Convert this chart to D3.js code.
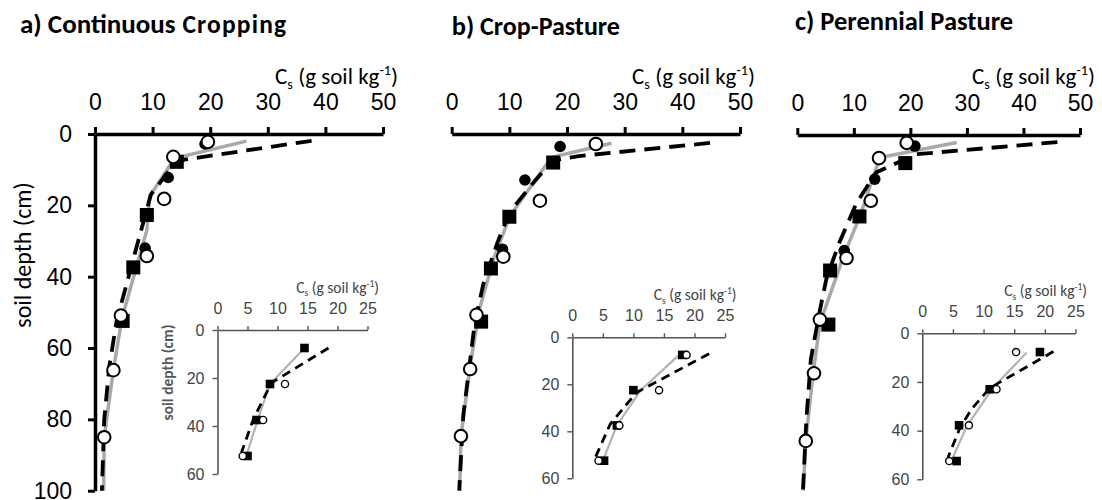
<!DOCTYPE html>
<html><head><meta charset="utf-8">
<script src="https://cdn.jsdelivr.net/npm/d3@7"></script>
<style>
body{margin:0;background:#fff;}
svg{display:block;font-family:Carlito, Lato, 'Open Sans', sans-serif;}
</style></head><body>
<svg id="chart" width="1102" height="500"></svg>
<script>
// ---------- tick labels / categories ----------
const mainTicks = [0, 10, 20, 30, 40, 50];
const depthTicks = [0, 20, 40, 60, 80, 100];
const insetTicks = [0, 5, 10, 15, 20, 25];
const insetDepthTicks = [0, 20, 40, 60];
const titleLead = ["a) Continuous", "b)", "c) Perennial Pasture"];
const titleTail = ["Cropping", "Crop-Pasture", ""];

// ---------- panel a : [Cs, depth] ----------
const aFilledCircles = [[19.1, 2.8], [12.7, 12.2], [8.7, 32.0]];
const aOpenCircles = [[19.6, 2.2], [13.6, 6.4], [12.0, 18.2], [9.0, 34.2], [4.5, 50.9], [3.2, 66.2], [1.6, 85.0]];
const aSquares = [[14.2, 7.8], [9.0, 22.7], [6.65, 37.4], [4.8, 52.4]];
const aGrayLine = [[26.3, 2.0], [13.8, 6.8], [9.5, 17.5], [9.0, 27.0], [4.7, 51.5], [3.2, 66.0], [1.6, 85.0], [1.5, 100]];
const aDashLine = [[37.6, 1.9], [14.2, 7.5], [9.7, 17.0], [7.5, 30.0], [5.0, 45.0], [3.8, 52.0], [2.5, 65.0], [1.6, 80.0], [1.2, 100]];
const aInsetSquares = [[14.5, 7.5], [8.75, 22.5], [6.5, 37.5], [5.0, 52.5]];
const aInsetOpen = [[11.25, 22.5], [7.6, 37.5], [4.2, 52.5]];
const aInsetGray = [[14.5, 7.5], [8.75, 22.5], [6.7, 37.5], [4.8, 52.5]];
const aInsetDash = [[18.5, 7.5], [9.0, 22.0], [6.0, 37.0], [4.0, 51.0]];

// ---------- panel b ----------
const bFilledCircles = [[18.8, 3.5], [12.7, 12.9], [8.8, 32.3]];
const bOpenCircles = [[25.0, 2.8], [15.3, 18.7], [8.95, 34.4], [4.3, 50.7], [3.2, 65.9], [1.6, 84.7]];
const bSquares = [[17.6, 8.0], [10.0, 23.2], [6.8, 37.7], [5.1, 52.6]];
const bGrayLine = [[27.7, 2.6], [17.3, 6.5], [10.1, 23.0], [7.2, 35.3], [4.8, 49.3], [3.2, 65.0], [1.6, 85.0], [1.4, 100]];
const bDashLine = [[44.8, 2.5], [22.0, 6.2], [17.4, 7.5], [14.1, 13.8], [10.0, 22.0], [7.9, 30.6], [5.5, 42.0], [4.0, 53.0], [2.0, 79.0], [1.3, 100]];
const bInsetSquares = [[18.0, 7.5], [10.0, 22.5], [7.3, 37.5], [5.2, 52.5]];
const bInsetOpen = [[18.7, 7.5], [14.2, 22.5], [7.7, 37.5], [4.3, 52.5]];
const bInsetGray = [[17.5, 7.5], [11.2, 22.5], [7.3, 37.5], [5.0, 52.5]];
const bInsetDash = [[22.4, 7.0], [10.5, 23.5], [6.2, 37.0], [3.8, 51.0]];

// ---------- panel c ----------
const cFilledCircles = [[20.8, 3.1], [13.7, 12.4], [8.3, 32.5]];
const cOpenCircles = [[19.35, 2.2], [14.45, 6.5], [13.0, 18.5], [8.7, 34.6], [4.0, 51.9], [2.95, 67.0], [1.5, 86.0]];
const cSquares = [[19.1, 7.9], [11.0, 22.9], [5.8, 38.1], [5.5, 53.3]];
const cGrayLine = [[28.2, 2.1], [14.6, 6.3], [11.1, 22.7], [8.1, 34.4], [4.0, 53.0], [2.8, 67.0], [1.5, 86.0], [1.05, 100]];
const cDashLine = [[46.0, 2.0], [21.0, 5.4], [14.0, 10.5], [10.5, 19.0], [7.5, 30.0], [5.2, 40.0], [3.9, 50.0], [2.4, 63.0], [1.6, 80.0], [1.0, 100]];
const cInsetSquares = [[19.2, 7.7], [11.0, 23.0], [6.0, 37.8], [5.6, 52.5]];
const cInsetOpen = [[15.3, 7.7], [12.1, 23.0], [7.6, 37.8], [4.4, 52.5]];
const cInsetGray = [[17.0, 8.0], [11.5, 22.5], [7.3, 38.0], [5.0, 51.0]];
const cInsetDash = [[21.4, 7.5], [11.0, 22.5], [8.1, 31.0], [6.2, 38.5], [4.2, 51.0]];

// ---------- layout ----------
const panels = [
  {lead: 0, tx: 20, ty: 33, leadSize: 27, tailSize: 25.5, tailSpacing: 1.2, main: {x0: 95, x1: 383, y0: 134, y1: 490.7, yAxis: true},
   inset: {x0: 217.5, x1: 367.5, y0: 330, y1: 474, yLabel: true},
   fc: aFilledCircles, oc: aOpenCircles, sq: aSquares, gray: aGrayLine, dash: aDashLine,
   isq: aInsetSquares, ioc: aInsetOpen, igray: aInsetGray, idash: aInsetDash},
  {lead: 1, tx: 451.7, ty: 35, leadSize: 26.5, tailSize: 26, tailSpacing: 0, main: {x0: 451.7, x1: 740, y0: 134, y1: 490.7, yAxis: false},
   inset: {x0: 572.3, x1: 725, y0: 337.3, y1: 478.3, yLabel: false},
   fc: bFilledCircles, oc: bOpenCircles, sq: bSquares, gray: bGrayLine, dash: bDashLine,
   isq: bInsetSquares, ioc: bInsetOpen, igray: bInsetGray, idash: bInsetDash},
  {lead: 2, tx: 795, ty: 30, leadSize: 26.5, tailSize: 26, tailSpacing: 0, main: {x0: 797.3, x1: 1080, y0: 135, y1: 490.7, yAxis: false},
   inset: {x0: 922.3, x1: 1075.5, y0: 333.3, y1: 479.3, yLabel: false},
   fc: cFilledCircles, oc: cOpenCircles, sq: cSquares, gray: cGrayLine, dash: cDashLine,
   isq: cInsetSquares, ioc: cInsetOpen, igray: cInsetGray, idash: cInsetDash}
];

const svg = d3.select('#chart');

function csTitle(g, x, y, size, fill) {
  const t = g.append('text').attr('x', x).attr('y', y).attr('text-anchor', 'end')
    .attr('font-size', size).attr('fill', fill);
  t.append('tspan').text('C');
  t.append('tspan').attr('font-size', size * 0.62).attr('dy', size * 0.22).text('s');
  t.append('tspan').attr('dy', -size * 0.22).text(' (g soil kg');
  t.append('tspan').attr('font-size', size * 0.62).attr('dy', -size * 0.4).text('-1');
  t.append('tspan').attr('dy', size * 0.4).text(')');
}

panels.forEach(p => {
  const g = svg.append('g');
  // title
  const tt = g.append('text').attr('x', p.tx).attr('y', p.ty).attr('font-weight', 'bold').attr('fill', '#000');
  tt.append('tspan').attr('font-size', p.leadSize).text(titleLead[p.lead]);
  if (titleTail[p.lead]) tt.append('tspan').attr('font-size', p.tailSize)
    .attr('letter-spacing', p.tailSpacing).text(' ' + titleTail[p.lead]);

  // ---- main plot ----
  const m = p.main;
  const x = d3.scaleLinear().domain([0, 50]).range([m.x0, m.x1]);
  const y = d3.scaleLinear().domain([0, 100]).range([m.y0, m.y1]);

  const xa = g.append('g').attr('transform', `translate(0,${m.y0})`)
    .call(d3.axisTop(x).tickValues(mainTicks).tickSize(7).tickSizeOuter(0).tickPadding(17));
  xa.select('.domain').attr('stroke', '#000').attr('stroke-width', 3.5);
  xa.selectAll('.tick line').attr('stroke', '#000').attr('stroke-width', 3);
  xa.selectAll('.tick text').attr('font-size', 23).attr('font-family', null).attr('fill', '#000');
  csTitle(g, m.x1 + 15, 84, 23, '#000');

  if (m.yAxis) {
    const ya = g.append('g').attr('transform', `translate(${m.x0},0)`)
      .call(d3.axisLeft(y).tickValues(depthTicks).tickSize(7).tickSizeOuter(0).tickPadding(16));
    ya.select('.domain').attr('stroke', '#000').attr('stroke-width', 3.5);
    ya.selectAll('.tick line').attr('stroke', '#000').attr('stroke-width', 3);
    ya.selectAll('.tick text').attr('font-size', 23).attr('font-family', null).attr('fill', '#000');
    g.append('text').attr('transform', `translate(31,255) rotate(-90)`)
      .attr('text-anchor', 'middle').attr('font-size', 24).attr('fill', '#000').text('soil depth (cm)');
  }

  const line = d3.line().x(d => x(d[0])).y(d => y(d[1]));
  g.append('path').attr('d', line(p.gray)).attr('fill', 'none').attr('stroke', '#a9a9a9').attr('stroke-width', 3.5);
  g.append('path').attr('d', line(p.dash)).attr('fill', 'none').attr('stroke', '#000')
    .attr('stroke-width', 3.8).attr('stroke-dasharray', '16,9');

  g.selectAll('.sq').data(p.sq).join('rect').attr('x', d => x(d[0]) - 7).attr('y', d => y(d[1]) - 7)
    .attr('width', 14).attr('height', 14).attr('fill', '#000');
  g.selectAll('.fc').data(p.fc).join('circle').attr('cx', d => x(d[0])).attr('cy', d => y(d[1]))
    .attr('r', 5.8).attr('fill', '#000');
  g.selectAll('.oc').data(p.oc).join('circle').attr('cx', d => x(d[0])).attr('cy', d => y(d[1]))
    .attr('r', 6.3).attr('fill', '#fff').attr('stroke', '#000').attr('stroke-width', 2);

  // ---- inset ----
  const n = p.inset;
  const ix = d3.scaleLinear().domain([0, 25]).range([n.x0, n.x1]);
  const iy = d3.scaleLinear().domain([0, 60]).range([n.y0, n.y1]);
  const ig = g.append('g');
  const ixa = ig.append('g').attr('transform', `translate(0,${n.y0})`)
    .call(d3.axisTop(ix).tickValues(insetTicks).tickSize(4).tickSizeOuter(0).tickPadding(12.5));
  const iya = ig.append('g').attr('transform', `translate(${n.x0},0)`)
    .call(d3.axisLeft(iy).tickValues(insetDepthTicks).tickSize(5).tickSizeOuter(0).tickPadding(8));
  [ixa, iya].forEach(a => {
    a.select('.domain').attr('stroke', '#555').attr('stroke-width', 1.6);
    a.selectAll('.tick line').attr('stroke', '#555').attr('stroke-width', 1.4);
    a.selectAll('.tick text').attr('font-size', 16).attr('font-family', null).attr('fill', '#444');
  });
  csTitle(ig, n.x1 + 11.5, n.y0 - 37, 15.5, '#444');
  if (n.yLabel) {
    ig.append('text').attr('transform', `translate(173,${(n.y0 + 415) / 2}) rotate(-90)`)
      .attr('text-anchor', 'middle').attr('font-size', 15.5).attr('font-weight', 'bold').attr('fill', '#555')
      .text('soil depth (cm)');
  }
  const iline = d3.line().x(d => ix(d[0])).y(d => iy(d[1]));
  ig.append('path').attr('d', iline(p.igray)).attr('fill', 'none').attr('stroke', '#b3b3b3').attr('stroke-width', 2.2);
  ig.append('path').attr('d', iline(p.idash)).attr('fill', 'none').attr('stroke', '#000')
    .attr('stroke-width', 2.8).attr('stroke-dasharray', '9,6');
  ig.selectAll('.isq').data(p.isq).join('rect').attr('x', d => ix(d[0]) - 4.3).attr('y', d => iy(d[1]) - 4.3)
    .attr('width', 8.6).attr('height', 8.6).attr('fill', '#000');
  ig.selectAll('.ioc').data(p.ioc).join('circle').attr('cx', d => ix(d[0])).attr('cy', d => iy(d[1]))
    .attr('r', 3.6).attr('fill', '#fff').attr('stroke', '#000').attr('stroke-width', 1.4);
});
</script>
</body></html>
